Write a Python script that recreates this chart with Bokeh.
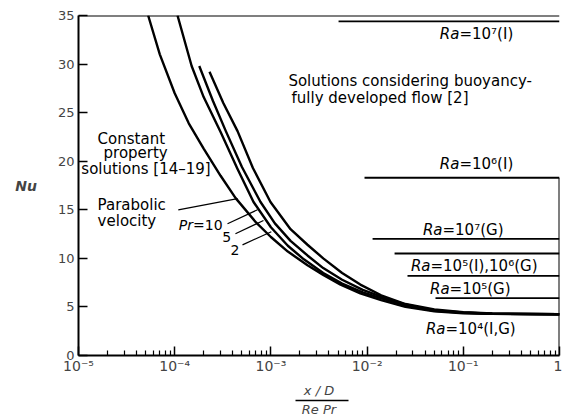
from bokeh.plotting import figure
from bokeh.models import (Span, CustomJSTickFormatter, FixedTicker, LogAxis,
                          ColumnDataSource)
from bokeh.core.properties import value
from bokeh.embed import file_html
from bokeh.resources import INLINE

FONT = "DejaVu Sans"

# ---- constant property curves (x = (x/D)/(Re Pr), Nu) ----
para_x = [5.3e-5, 7e-5, 1e-4, 1.4e-4, 2e-4, 3e-4, 4.3e-4, 7e-4, 1e-3, 1.5e-3, 2.4e-3,
          3.5e-3, 5.3e-3, 8.5e-3, 1.4e-2, 2.5e-2, 5e-2, 0.1, 0.2, 1.0]
para_nu = [35, 31.0, 27.0, 23.9, 21.3, 18.5, 16.2, 13.7, 12.2, 10.7, 9.3,
           8.3, 7.3, 6.4, 5.7, 5.0, 4.55, 4.35, 4.28, 4.25]

pr10_x = [1.07e-4, 1.5e-4, 2e-4, 3e-4, 4.5e-4, 6.6e-4, 1e-3, 1.5e-3, 2.2e-3, 3.5e-3,
          5.5e-3, 9e-3, 1.5e-2, 2.5e-2, 5e-2, 0.1, 0.2, 1.0]
pr10_nu = [35, 29.8, 26.6, 23.0, 19.2, 15.8, 13.2, 11.3, 9.9, 8.5,
           7.4, 6.5, 5.8, 5.15, 4.6, 4.4, 4.3, 4.25]

pr5_x = [1.8e-4, 2.5e-4, 3.4e-4, 5e-4, 7.8e-4, 1.1e-3, 1.6e-3, 2.4e-3, 3.5e-3, 5.5e-3,
         9e-3, 1.5e-2, 2.5e-2, 5e-2, 0.1, 0.2, 1.0]
pr5_nu = [29.8, 26.2, 23.1, 19.4, 15.8, 13.6, 11.8, 10.3, 9.0, 7.8,
          6.75, 5.95, 5.25, 4.65, 4.42, 4.3, 4.25]

pr2_x = [2.3e-4, 3.2e-4, 4.5e-4, 6.5e-4, 9.9e-4, 1.6e-3, 2.4e-3, 3.5e-3, 5.5e-3, 8.5e-3,
         1.4e-2, 2.5e-2, 5e-2, 0.1, 0.2, 1.0]
pr2_nu = [29.2, 26.0, 23.1, 19.3, 15.8, 13.0, 11.4, 10.0, 8.5, 7.3,
          6.2, 5.3, 4.75, 4.45, 4.32, 4.25]

# ---- fully developed buoyancy solutions (horizontal levels) ----
ra_start = [5.05e-3, 9.4e-3, 1.14e-2, 1.93e-2, 2.63e-2, 5.14e-2]
ra_nu = [34.4, 18.3, 12.0, 10.5, 8.2, 5.9]
ra_end = 1.0

# ---- Ra labels ----
ra_lab_x = [0.0912, 0.0912, 0.0608, 0.0456, 0.072, 0.0653]
ra_lab_y = [33.1, 19.7, 12.9, 9.2, 6.85, 2.7]
ra_lab_text = [" =10⁷(I)", " =10⁶(I)", " =10⁷(G)", " =10⁵(I),10⁶(G)",
               " =10⁵(G)", " =10⁴(I,G)"]

# ---- axis ticks ----
x_decades = [1e-5, 1e-4, 1e-3, 1e-2, 1e-1, 1.0]
x_minor = [m * d for d in x_decades[:-1] for m in range(2, 10)]
y_ticks = [0, 5, 10, 15, 20, 25, 30, 35]

p = figure(width=562, height=419, x_axis_type="log", x_range=(1e-5, 1.0),
           y_range=(0, 35), output_backend="svg", toolbar_location=None,
           min_border_left=78, min_border_right=3, min_border_top=15,
           min_border_bottom=0)
p.xgrid.visible = False
p.ygrid.visible = False
p.outline_line_color = None
p.background_fill_color = "white"
p.border_fill_color = "white"

# x axis
xa = p.xaxis[0]
xa.ticker = FixedTicker(ticks=x_decades, minor_ticks=x_minor)
xa.formatter = CustomJSTickFormatter(code="""
const e = Math.round(Math.log10(tick));
if (e === 0) return "1";
const sup = {"-":"\u207b","0":"\u2070","1":"\u00b9","2":"\u00b2","3":"\u00b3",
             "4":"\u2074","5":"\u2075","6":"\u2076","7":"\u2077","8":"\u2078","9":"\u2079"};
return "10" + String(e).split("").map(c => sup[c]).join("");
""")
xa.major_tick_in = 9
xa.major_tick_out = 0
xa.minor_tick_in = 5
xa.minor_tick_out = 0
xa.axis_line_width = 2
xa.major_tick_line_width = 1.5
xa.minor_tick_line_width = 1.2
xa.major_label_standoff = 2
xa.major_label_text_font = FONT
xa.major_label_text_font_size = "14px"
xa.axis_label = "x / D"
xa.axis_label_text_font = FONT
xa.axis_label_text_font_style = "italic"
xa.axis_label_text_font_size = "13px"
xa.axis_label_standoff = 6

# fraction bar + denominator as an extra axis
ax2 = LogAxis(bounds=(1.8e-3, 6.4e-3), ticker=FixedTicker(ticks=[]),
              axis_label="Re Pr")
ax2.axis_line_width = 1.5
ax2.major_tick_in = 0
ax2.major_tick_out = 0
ax2.minor_tick_in = 0
ax2.minor_tick_out = 0
ax2.major_label_text_font_size = "0px"
ax2.major_label_standoff = 0
ax2.axis_label_standoff = 1
ax2.axis_label_text_font = FONT
ax2.axis_label_text_font_style = "italic"
ax2.axis_label_text_font_size = "13px"
p.add_layout(ax2, "below")

# y axis
ya = p.yaxis[0]
ya.ticker = FixedTicker(ticks=y_ticks)
ya.major_tick_in = 9
ya.major_tick_out = 0
ya.minor_tick_in = 0
ya.minor_tick_out = 0
ya.axis_line_width = 2
ya.major_tick_line_width = 1.5
ya.major_label_standoff = 4
ya.major_label_text_font = FONT
ya.major_label_text_font_size = "13px"
ya.axis_label = "Nu"
ya.axis_label_orientation = "horizontal"
ya.axis_label_text_font = FONT
ya.axis_label_text_font_style = "bold italic"
ya.axis_label_text_font_size = "14px"
ya.axis_label_standoff = 18

# frame top + partial right edge
p.add_layout(Span(location=35, dimension="width", line_color="black", line_width=2))
p.segment(x0=[ra_end], y0=[0], x1=[ra_end], y1=[ra_nu[1]], line_color="black", line_width=2)

# curves
for xs, ys in [(para_x, para_nu), (pr10_x, pr10_nu), (pr5_x, pr5_nu), (pr2_x, pr2_nu)]:
    p.line(xs, ys, line_color="black", line_width=2.4, line_join="round")

# horizontal buoyancy levels
p.segment(x0=ra_start, y0=ra_nu, x1=[ra_end] * len(ra_nu), y1=ra_nu,
          line_color="black", line_width=1.8)

# Ra labels
src = ColumnDataSource(dict(x=ra_lab_x, y=ra_lab_y, t=ra_lab_text, ra=["Ra"] * len(ra_lab_x)))
p.text(x="x", y="y", text="ra", source=src, text_align="right", text_baseline="middle",
       text_font=value(FONT), text_font_style="italic", text_font_size="15px")
p.text(x="x", y="y", text="t", source=src, text_align="left", text_baseline="middle",
       text_font=value(FONT), text_font_size="15px")

# annotation texts
ann_x = [1.52e-3, 1.64e-3, 1.58e-5, 1.82e-5, 1.07e-5, 1.58e-5, 1.58e-5]
ann_y = [28.3, 26.5, 22.3, 20.8, 19.2, 15.5, 13.8]
ann_t = ["Solutions considering buoyancy-", "fully developed flow [2]",
         "Constant", "property", "solutions [14–19]", "Parabolic", "velocity"]
p.text(x=ann_x, y=ann_y, text=ann_t, text_align="left", text_baseline="middle",
       text_font=value(FONT), text_font_size="15px")

# Pr labels
p.text(x=[1.55e-4], y=[13.4], text=["Pr"], text_align="right", text_baseline="middle",
       text_font=value(FONT), text_font_style="italic", text_font_size="14px")
p.text(x=[1.55e-4, 3.13e-4, 3.8e-4], y=[13.4, 12.2, 10.9], text=[" =10", "5", "2"],
       text_align="left", text_baseline="middle",
       text_font=value(FONT), text_font_size="14px")

# leader lines
lead_x0 = [1.09e-4, 3.54e-4, 4.28e-4, 5.07e-4]
lead_y0 = [15.0, 13.57, 12.53, 11.39]
lead_x1 = [4.5e-4, 7.26e-4, 8.37e-4, 1.01e-3]
lead_y1 = [16.15, 15.0, 13.9, 12.74]
p.segment(x0=lead_x0, y0=lead_y0, x1=lead_x1, y1=lead_y1, line_color="black", line_width=1.2)

open("out.html", "w").write(file_html(p, INLINE))
